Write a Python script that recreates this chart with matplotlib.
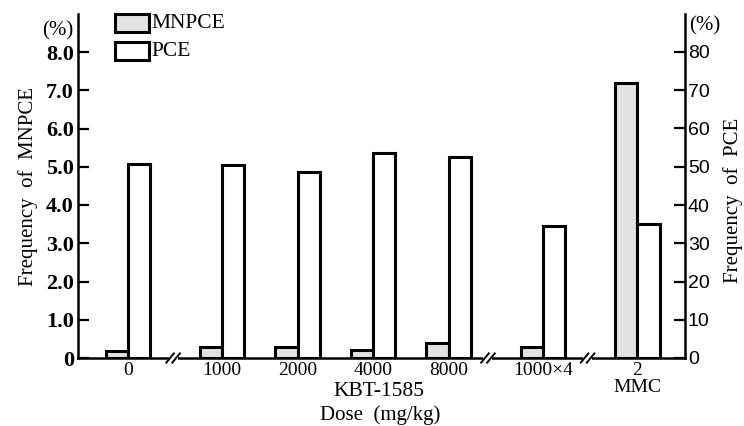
import matplotlib
matplotlib.use("Agg")
import matplotlib.pyplot as plt
from matplotlib.patches import Rectangle

groups = ["0", "1000", "2000", "4000", "8000", "1000×4", "2"]
mnpce = [0.18, 0.30, 0.28, 0.20, 0.40, 0.28, 7.18]   # %
pce = [50.6, 50.4, 48.5, 53.5, 52.5, 34.5, 35.0]      # %
left_ticks = [0, 1, 2, 3, 4, 5, 6, 7, 8]
left_ticklabels = ["0", "1.0", "2.0", "3.0", "4.0", "5.0", "6.0", "7.0", "8.0"]
right_ticks = [0, 10, 20, 30, 40, 50, 60, 70, 80]

# layout
xpos = [0, 1.25, 2.25, 3.25, 4.25, 5.5, 6.75]
breaks = [0.6, 4.77, 6.09]
bw = 0.295

serif = "Liberation Serif"
plt.rcParams["font.family"] = [serif, "DejaVu Serif"]

fig = plt.figure(figsize=(7.44, 4.26), dpi=100)
ax = fig.add_axes([78/744, 1-358/426, (685-78)/744, (358-14)/426])
ax2 = ax.twinx()

ymax = (358-14)/38.25
ax.set_ylim(0, ymax)
ax2.set_ylim(0, ymax*10)
ax.set_xlim(-0.66, 7.38)

lw = 2.2
ax.bar([x - bw/2 for x in xpos], mnpce, width=bw, facecolor="#e2e2e2",
       edgecolor="black", linewidth=lw, zorder=3)
ax2.bar([x + bw/2 for x in xpos], pce, width=bw, facecolor="white",
        edgecolor="black", linewidth=lw, zorder=3)

for a in (ax, ax2):
    a.spines["top"].set_visible(False)
    for s in ("left", "right", "bottom"):
        a.spines[s].set_linewidth(1.8)
ax.spines["right"].set_visible(False)
ax2.spines["left"].set_visible(False)
ax2.spines["bottom"].set_visible(False)

ax.set_yticks(left_ticks)
ax.set_yticklabels(left_ticklabels, fontsize=16, fontweight="bold")
ax.tick_params(axis="y", direction="in", length=8, width=1.6, pad=3)
ax2.set_yticks(right_ticks)
ax2.set_yticklabels([str(t) for t in right_ticks], fontsize=14,
                    family=["Liberation Sans", "DejaVu Sans"])
ax2.tick_params(axis="y", direction="in", length=8, width=1.6, pad=2)

ax.set_xticks(xpos)
ax.set_xticklabels(groups, fontsize=14)
ax.tick_params(axis="x", length=0, pad=3)

# axis breaks
for b in breaks:
    ax.add_patch(Rectangle((b - 0.06, -0.15), 0.12, 0.3, transform=ax.transData,
                           facecolor="white", edgecolor="none", clip_on=False, zorder=5))
    for dx in (-0.04, 0.04):
        ax.plot([b + dx - 0.05, b + dx + 0.05], [-0.12, 0.12], color="black",
                lw=1.4, clip_on=False, zorder=6)

# labels
ax.set_ylabel("Frequency  of  MNPCE", fontsize=15, labelpad=6)
fig.text(733/744, 1-200/426, "Frequency  of  PCE", fontsize=15, rotation=90,
         ha="center", va="center")
fig.text(58/744, 1-31/426, "(%)", fontsize=15, ha="center", va="center")
fig.text(705/744, 1-26/426, "(%)", fontsize=15, ha="center", va="center")
fig.text(379/744, 1-391/426, "KBT-1585", fontsize=15.5, ha="center", va="center")
fig.text(380/744, 1-415/426, "Dose  (mg/kg)", fontsize=15, ha="center", va="center")
fig.text(637/744, 1-388/426, "MMC", fontsize=14, ha="center", va="center")

# legend
fig.patches.append(Rectangle((115/744, 1-32/426), 34/744, 18/426, transform=fig.transFigure,
                             facecolor="#e2e2e2", edgecolor="black", linewidth=2.2))
fig.patches.append(Rectangle((115/744, 1-60/426), 34/744, 18/426, transform=fig.transFigure,
                             facecolor="white", edgecolor="black", linewidth=2.2))
fig.text(151/744, 1-23/426, "MNPCE", fontsize=15.5, ha="left", va="center")
fig.text(151/744, 1-51/426, "PCE", fontsize=15.5, ha="left", va="center")

fig.savefig("out.png", dpi=100)
